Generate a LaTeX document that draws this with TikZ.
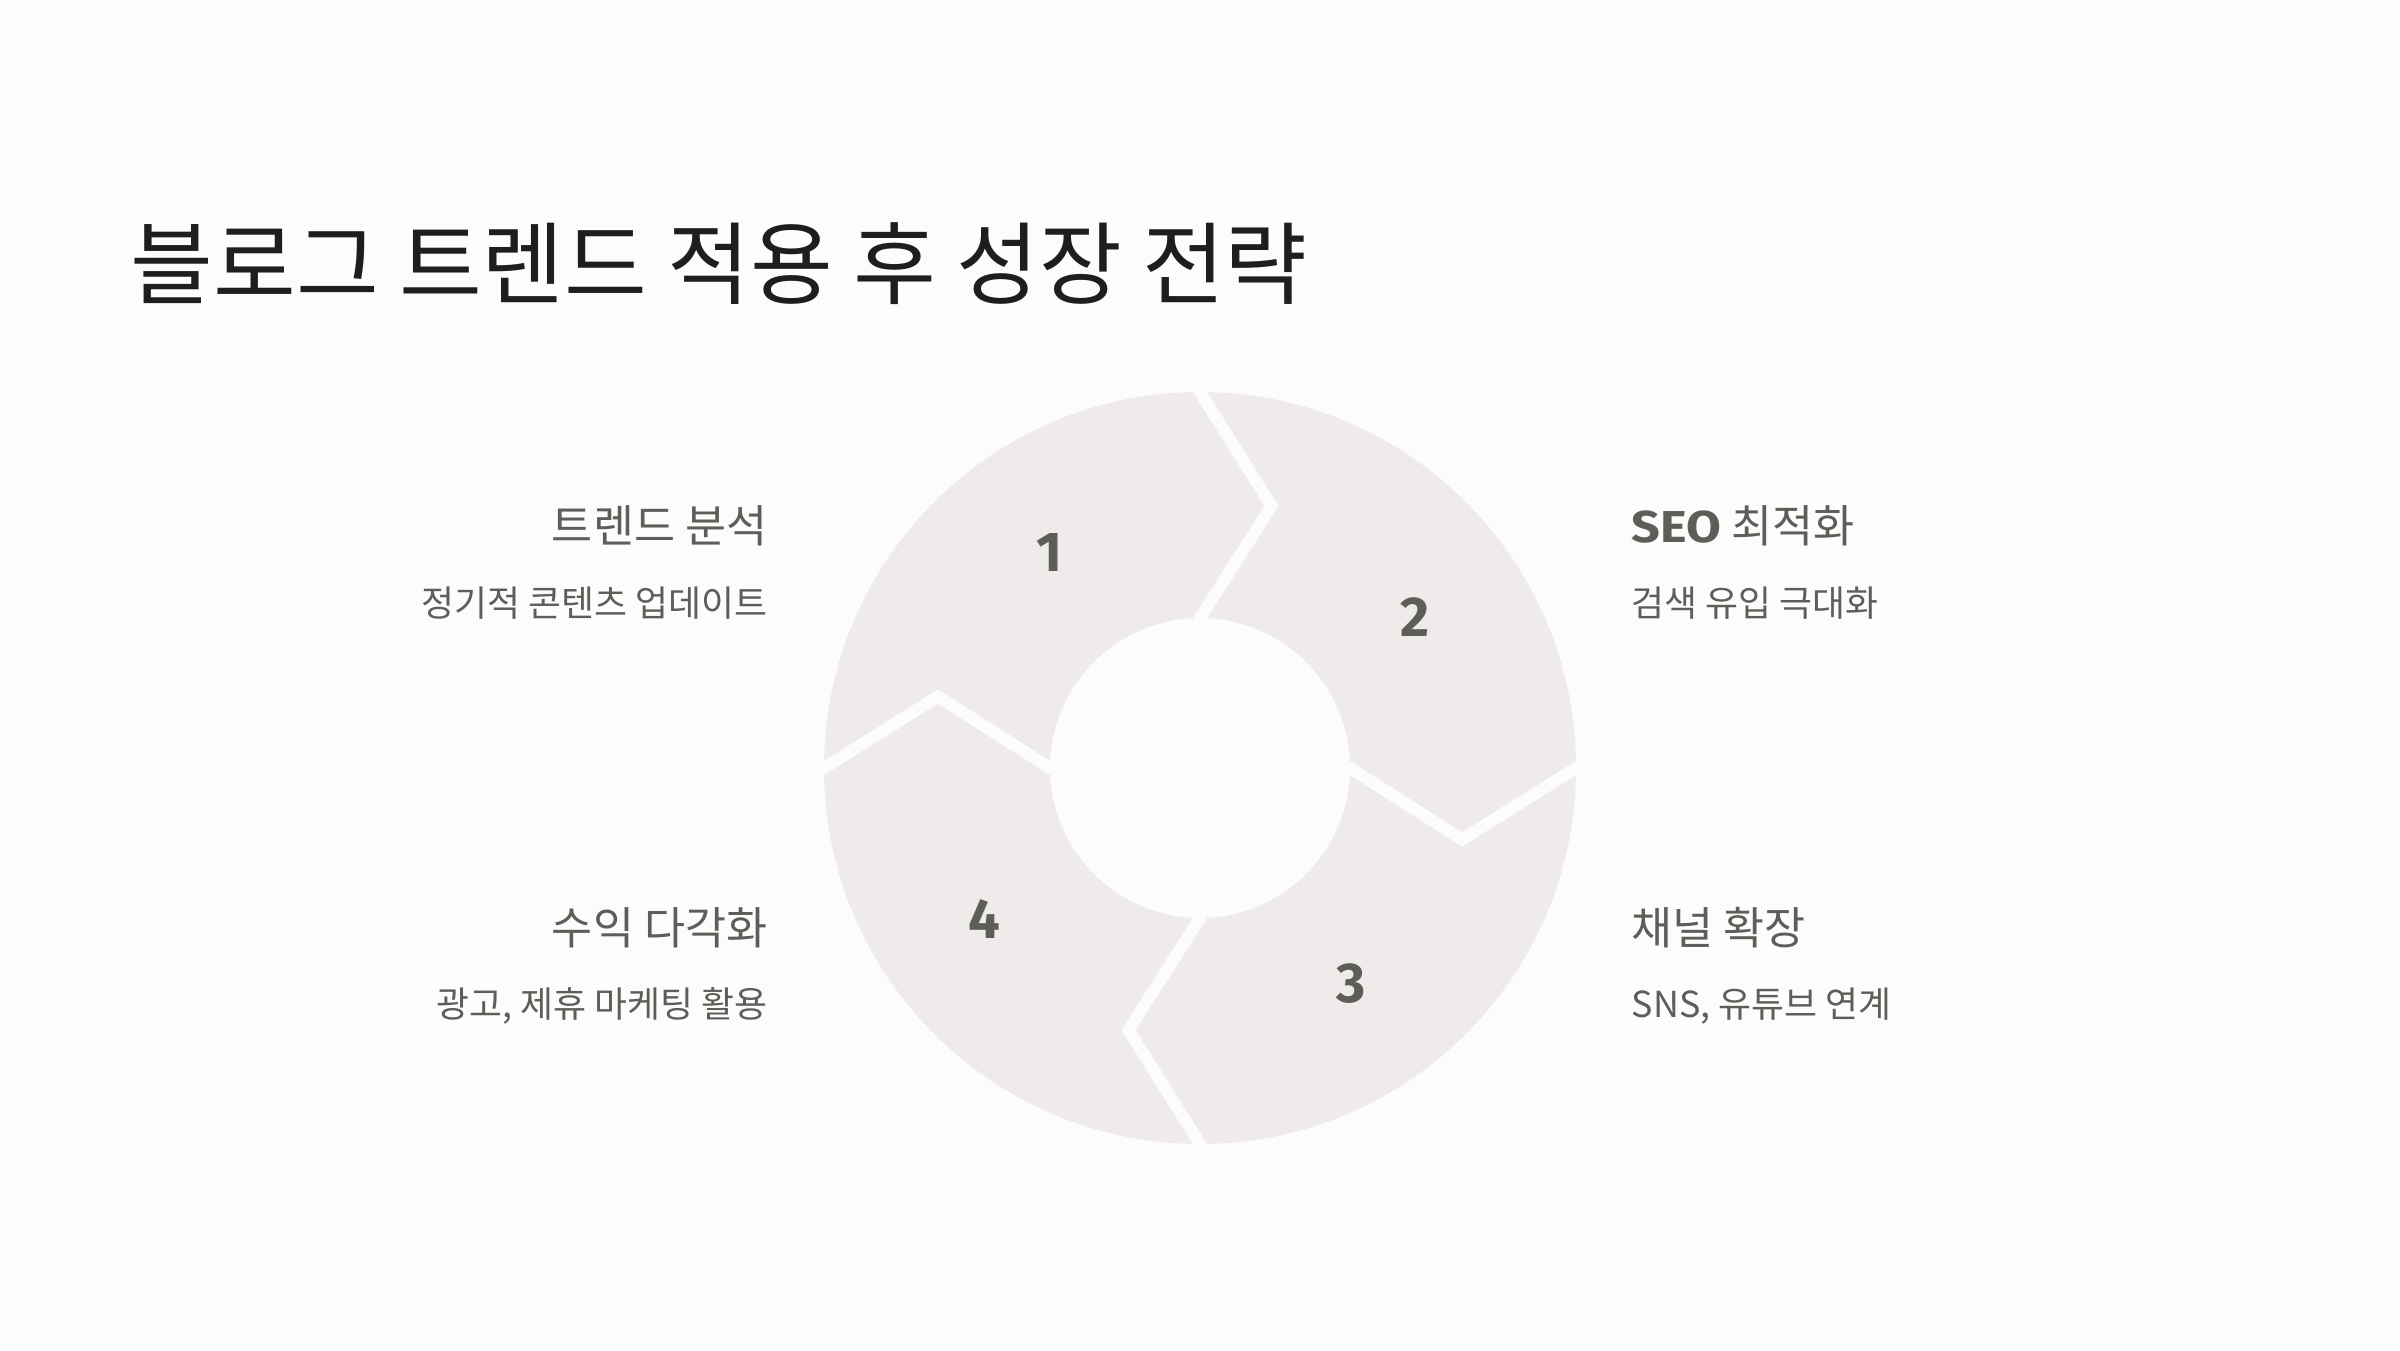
\documentclass[tikz,border=0pt]{standalone}
\usepackage{fontspec}
\setmainfont{Noto Sans CJK KR}
\newfontfamily\numfont{Fira Sans}
\newfontfamily\widefont[FakeStretch=1.13]{Fira Sans}
\usetikzlibrary{calc}
\definecolor{pagebg}{HTML}{FCFCFC}
\definecolor{ringfill}{HTML}{F0EBEB}
\definecolor{titletext}{HTML}{1E1E1E}
\definecolor{labeltext}{HTML}{5E5E58}
\tikzset{
  heading/.style={text=labeltext, font=\fontsize{12.7}{15}\selectfont, inner sep=0pt},
  subtext/.style={text=labeltext, font=\fontsize{10.2}{12}\selectfont, inner sep=0pt},
  numlabel/.style={text=labeltext, font=\numfont\bfseries\fontsize{16}{19}\selectfont, inner sep=0pt},
  gapline/.style={draw=pagebg, line width=1.2mm, line join=miter},
}
\begin{document}
\begin{tikzpicture}

	% page
	\fill[pagebg] (0,0) rectangle (24,13.5);
	\useasboundingbox (0,0) rectangle (24,13.5);

	% title
	\node[anchor=west, text=titletext, font=\fontsize{25.6}{30}\selectfont, inner sep=0pt] (title) at (1.30,10.86) {블로그 트렌드 적용 후 성장 전략};

	% ring
	\coordinate (c) at (12,5.82);
	\fill[ringfill, even odd rule] (c) circle (3.76) (c) circle (1.50);

	% gaps between the arrows
	\foreach \r in {0,-90,-180,-270}
		\draw[gapline, shift={(c)}, rotate=\r] (-0.053,3.845) -- (0.715,2.62) -- (-0.054,1.416);

	% numbers
	\node[numlabel] (n1) at ($(c)+(125:2.63)$) {1};
	\node[numlabel] (n2) at ($(c)+(35:2.63)$) {2};
	\node[numlabel] (n3) at ($(c)+(-55:2.63)$) {3};
	\node[numlabel] (n4) at ($(c)+(-145:2.63)$) {4};

	% labels left
	\node[heading, anchor=east] (h1) at (7.68,8.24) {트렌드 분석};
	\node[subtext, anchor=east] (s1) at (7.68,7.47) {정기적 콘텐츠 업데이트};
	\node[heading, anchor=east] (h4) at (7.68,4.225) {수익 다각화};
	\node[subtext, anchor=east] (s4) at (7.68,3.44) {광고, 제휴 마케팅 활용};

	% labels right
	\node[heading, anchor=west] (h2) at (16.31,8.24) {{\widefont\bfseries SEO} 최적화};
	\node[subtext, anchor=west] (s2) at (16.31,7.47) {검색 유입 극대화};
	\node[heading, anchor=west] (h3) at (16.31,4.225) {채널 확장};
	\node[subtext, anchor=west] (s3) at (16.31,3.44) {SNS, 유튜브 연계};

\end{tikzpicture}
\end{document}
